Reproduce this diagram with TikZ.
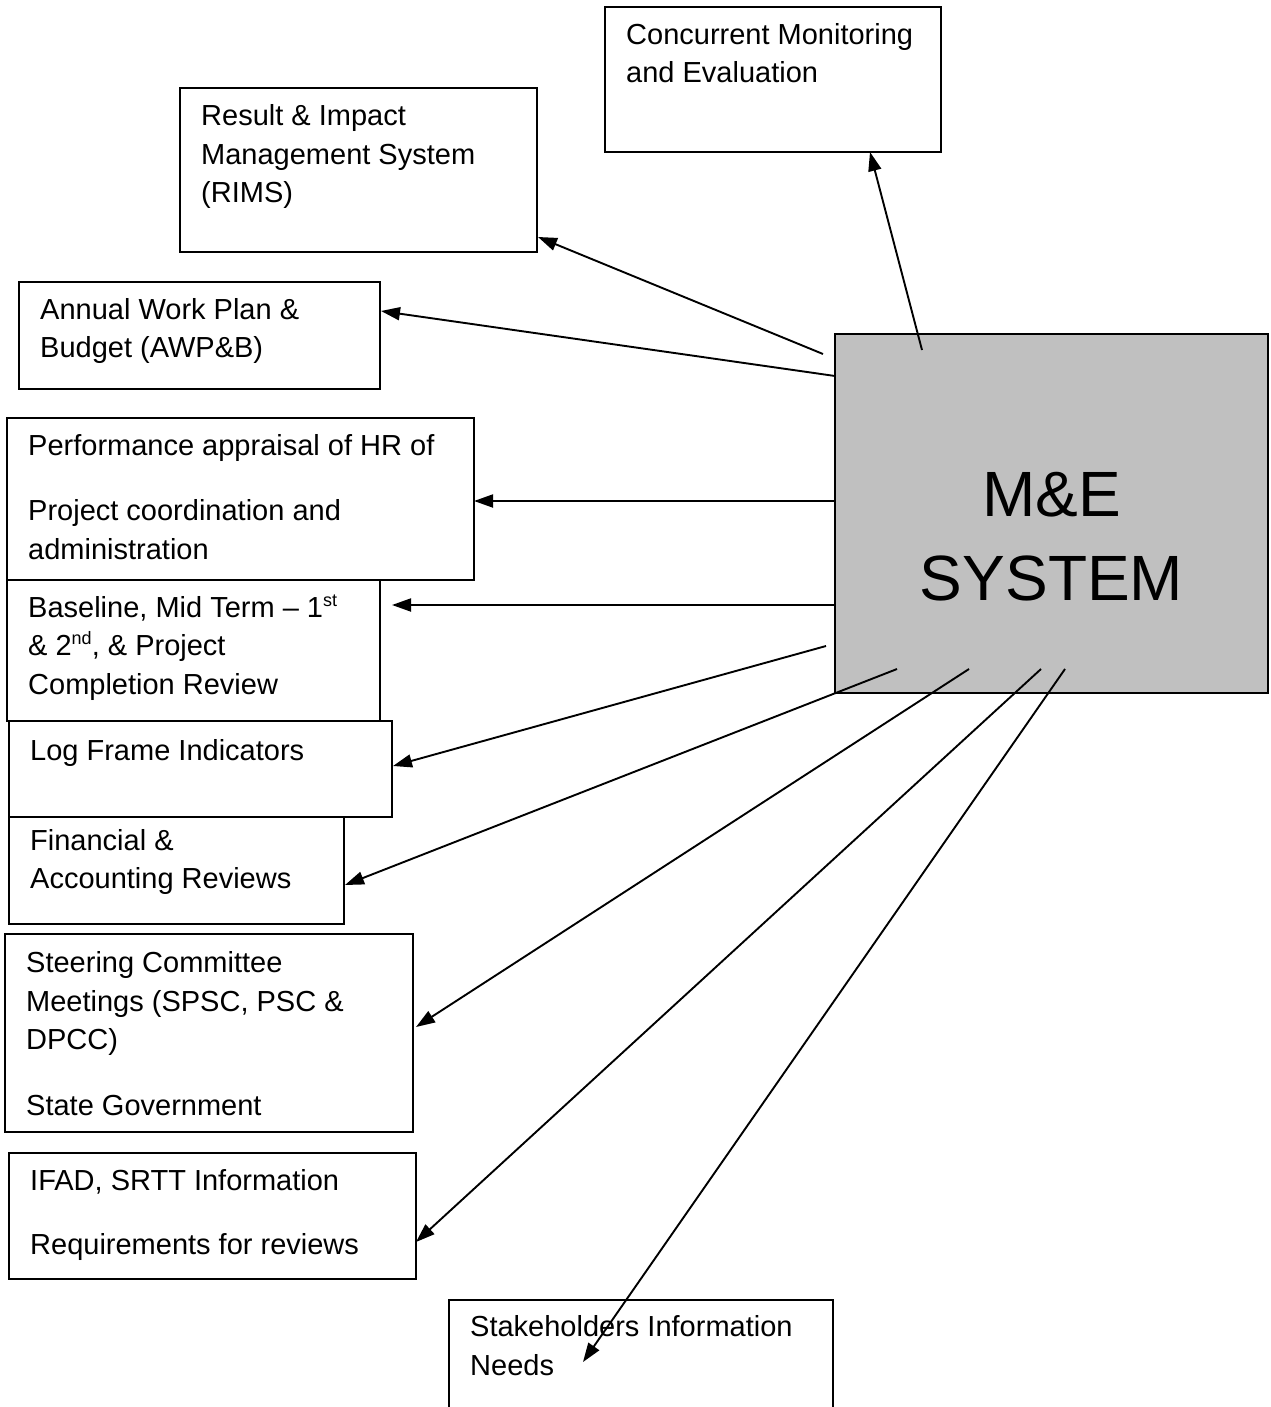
\documentclass[tikz,border=0pt]{standalone}
\usepackage{fontspec}
\setmainfont{Liberation Sans}
\usetikzlibrary{arrows.meta}
\definecolor{meGray}{RGB}{192,192,192}
\tikzset{
  box/.style={draw, line width=1.9pt, rectangle, anchor=north west, inner sep=0pt, outer sep=0pt},
  lbl/.style={anchor=base west, inner sep=0pt, font=\fontsize{29}{35}\selectfont},
  big/.style={anchor=base, inner sep=0pt, font=\fontsize{64}{80}\selectfont},
  arr/.style={line width=1.9pt, -{Triangle[length=19pt,width=13pt]}},
}
\newcommand{\supx}[1]{\raisebox{11pt}{\fontsize{18}{18}\selectfont #1}}
\begin{document}
\begin{tikzpicture}[x=1pt,y=-1pt]
\useasboundingbox (0,0) rectangle (1270,1407);
\clip (0,0) rectangle (1270,1407);
\fill[white] (0,0) rectangle (1270,1407);

% boxes
\node[box, minimum width=336pt, minimum height=145pt] (conc) at (605,7) {};
\node[box, minimum width=357pt, minimum height=164pt] (rims) at (180,88) {};
\node[box, minimum width=361pt, minimum height=107pt] (awp) at (19,282) {};
\node[box, minimum width=467pt, minimum height=162pt] (perf) at (7,418) {};
\node[box, minimum width=373pt, minimum height=141pt] (base) at (7,580) {};
\node[box, minimum width=383pt, minimum height=96pt] (logf) at (9,721) {};
\node[box, minimum width=335pt, minimum height=107pt] (fin) at (9,817) {};
\node[box, minimum width=408pt, minimum height=198pt] (steer) at (5,934) {};
\node[box, minimum width=407pt, minimum height=126pt] (ifad) at (9,1153) {};
\node[box, minimum width=384pt, minimum height=140pt] (stake) at (449,1300) {};
\node[box, fill=meGray, minimum width=433pt, minimum height=359pt] (me) at (835,334) {};

% texts
\node[lbl] (t1a) at (626,45) {Concurrent Monitoring};
\node[lbl] (t1b) at (626,83) {and Evaluation};
\node[lbl] (t2a) at (201,126) {Result \& Impact};
\node[lbl] (t2b) at (201,165) {Management System};
\node[lbl] (t2c) at (201,203) {(RIMS)};
\node[lbl] (t3a) at (40,319) {Annual Work Plan \&};
\node[lbl] (t3b) at (40,357) {Budget (AWP\&B)};
\node[lbl] (t4a) at (28,455) {Performance appraisal of HR of};
\node[lbl] (t4b) at (28,520) {Project coordination and};
\node[lbl] (t4c) at (28,559) {administration};
\node[lbl] (t5a) at (28,617) {Baseline, Mid Term -- 1\supx{st}};
\node[lbl] (t5b) at (28,655) {\& 2\supx{nd}, \& Project};
\node[lbl] (t5c) at (28,694) {Completion Review};
\node[lbl] (t6a) at (30,760) {Log Frame Indicators};
\node[lbl] (t7a) at (30,850) {Financial \&};
\node[lbl] (t7b) at (30,888) {Accounting Reviews};
\node[lbl] (t8a) at (26,972) {Steering Committee};
\node[lbl] (t8b) at (26,1011) {Meetings (SPSC, PSC \&};
\node[lbl] (t8c) at (26,1049) {DPCC)};
\node[lbl] (t8d) at (26,1115) {State Government};
\node[lbl] (t9a) at (30,1190) {IFAD, SRTT Information};
\node[lbl] (t9b) at (30,1254) {Requirements for reviews};
\node[lbl] (t10a) at (470,1336) {Stakeholders Information};
\node[lbl] (t10b) at (470,1375) {Needs};
\node[big] (me1) at (1051.5,516) {M\&E};
\node[big] (me2) at (1051.5,600) {SYSTEM};

% arrow start points inside/near the M&E box
\coordinate (s1) at (922,350);
\coordinate (s2) at (823,354);
\coordinate (s3) at (835,376);
\coordinate (s4) at (835,501);
\coordinate (s5) at (835,605);
\coordinate (s6) at (826,646);
\coordinate (s7) at (897,669);
\coordinate (s8) at (969,669);
\coordinate (s9) at (1041,669);
\coordinate (s10) at (1065,669);
\coordinate (e10) at (583,1362);

% connectors
\draw[arr] (s1) -- ([xshift=97pt]conc.south);
\draw[arr] (s2) -- ([yshift=-67pt,xshift=1pt]rims.east);
\draw[arr] (s3) -- ([yshift=24.5pt,xshift=1pt]awp.east);
\draw[arr] (s4) -- ([yshift=-2pt]perf.east);
\draw[arr] (s5) -- ([xshift=12pt,yshift=45.5pt]base.east);
\draw[arr] (s6) -- ([xshift=1pt,yshift=3pt]logf.east);
\draw[arr] (s7) -- ([xshift=1pt,yshift=-14.5pt]fin.east);
\draw[arr] (s8) -- ([xshift=3pt,yshift=6pt]steer.east);
\draw[arr] (s9) -- ([yshift=-26pt]ifad.east);
\draw[arr] (s10) -- (e10);
\end{tikzpicture}
\end{document}
